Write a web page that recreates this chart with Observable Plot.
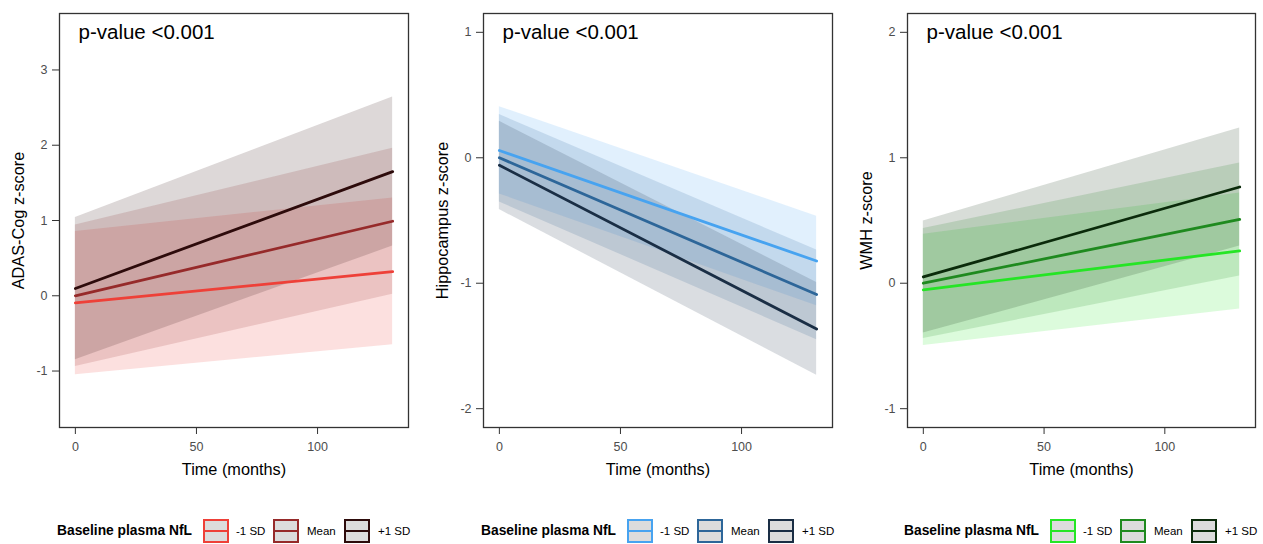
<!DOCTYPE html>
<html>
<head>
<meta charset="utf-8">
<script src="https://cdn.jsdelivr.net/npm/d3@7"></script>
<script src="https://cdn.jsdelivr.net/npm/@observablehq/plot@0.6"></script>
<style>
  html, body { margin: 0; padding: 0; background: #fff; }
  #root { position: relative; width: 1263px; height: 544px; overflow: hidden; font-family: "Liberation Sans", Arial, Helvetica, sans-serif; }
  .panel { position: absolute; top: 0; width: 421px; height: 490px; }
  .panel svg { display: block; }
  .legend { position: absolute; top: 519px; height: 24px; width: 360px; }
  .legend .ttl { position: absolute; left: 0; top: 0; line-height: 24px; font-size: 13.8px; font-weight: bold; color: #000; white-space: nowrap; }
  .legend .key { position: absolute; top: 0; width: 26px; height: 24px; box-sizing: border-box; border: 2.5px solid; background: #DCDCDC; }
  .legend .key i { position: absolute; left: 0; right: 0; top: 50%; height: 2.5px; margin-top: -1.25px; }
  .legend .lab { position: absolute; top: 0; line-height: 24px; font-size: 11.5px; color: #000; white-space: nowrap; }
</style>
</head>
<body>
<div id="root"></div>
<script>
// ---- data ----
const groups = ["-1 SD", "Mean", "+1 SD"];
const months = [0, 131];
const xTicks = [0, 50, 100];
const pLabel = "p-value <0.001";
const legendTitle = "Baseline plasma NfL";

// ADAS-Cog: per group [value at month 0, value at month 131]
const adasFit = [[-0.095, 0.32], [0.0, 0.99], [0.097, 1.65]];
const adasLo  = [[-1.05, -0.65], [-0.94, 0.02], [-0.85, 0.66]];
const adasHi  = [[0.855, 1.30], [0.94, 1.96], [1.04, 2.64]];
const adasYTicks = [-1, 0, 1, 2, 3];

// Hippocampus
const hippoFit = [[0.058, -0.823], [0.0, -1.09], [-0.06, -1.365]];
const hippoLo  = [[-0.288, -1.18], [-0.352, -1.45], [-0.413, -1.733]];
const hippoHi  = [[0.407, -0.466], [0.344, -0.735], [0.291, -0.995]];
const hippoYTicks = [-2, -1, 0, 1];

// WMH
const wmhFit = [[-0.053, 0.258], [0.0, 0.508], [0.05, 0.767]];
const wmhLo  = [[-0.497, -0.206], [-0.44, 0.058], [-0.397, 0.296]];
const wmhHi  = [[0.39, 0.72], [0.437, 0.958], [0.497, 1.238]];
const wmhYTicks = [-1, 0, 1, 2];

const adasColors  = ["#EE4038", "#962A2A", "#2D0B0B"];
const hippoColors = ["#47A3F0", "#2D6699", "#1A2E45"];
const wmhColors   = ["#25E525", "#1F8A1F", "#0B2B0B"];

const panels = [
  {fit: adasFit, lo: adasLo, hi: adasHi, colors: adasColors, yTicks: adasYTicks,
   yLabel: "ADAS-Cog z-score", yDomain: [-1.75, 3.75], left: 0, mL: 59, mR: 13, legLeft: 57},
  {fit: hippoFit, lo: hippoLo, hi: hippoHi, colors: hippoColors, yTicks: hippoYTicks,
   yLabel: "Hippocampus z-score", yDomain: [-2.15, 1.15], left: 421, mL: 62, mR: 10, legLeft: 60},
  {fit: wmhFit, lo: wmhLo, hi: wmhHi, colors: wmhColors, yTicks: wmhYTicks,
   yLabel: "WMH z-score", yDomain: [-1.15, 2.15], left: 842, mL: 65, mR: 8, legLeft: 62}
];

const root = document.getElementById("root");
const FONT = "Liberation Sans, Arial, Helvetica, sans-serif";

for (const p of panels) {
  const rows = [];
  groups.forEach((g, gi) => {
    months.forEach((m, mi) => {
      rows.push({group: g, time: m, fit: p.fit[gi][mi], lo: p.lo[gi][mi], hi: p.hi[gi][mi]});
    });
  });

  const chart = Plot.plot({
    width: 421,
    height: 490,
    marginLeft: p.mL,
    marginRight: p.mR,
    marginTop: 13,
    marginBottom: 63,
    style: {fontFamily: FONT, background: "white", overflow: "visible"},
    x: {domain: [-6.55, 137.55]},
    y: {domain: p.yDomain},
    color: {domain: groups, range: p.colors},
    marks: [
      Plot.areaY(rows, {x: "time", y1: "lo", y2: "hi", z: "group", fill: "group", fillOpacity: 0.16}),
      Plot.lineY(rows, {x: "time", y: "fit", z: "group", stroke: "group", strokeWidth: 2.8}),
      Plot.frame({stroke: "#333333", strokeWidth: 1.3}),
      Plot.axisX({ticks: xTicks, tickSize: 7, tickPadding: 8, fontSize: 12.5, stroke: "#333333", fill: "#4D4D4D",
                  tickFormat: d => String(d), label: null}),
      Plot.axisY({ticks: p.yTicks, tickSize: 7, tickPadding: 5, fontSize: 12.5, stroke: "#333333", fill: "#4D4D4D",
                  tickFormat: d => String(d), label: null}),
      Plot.text(["Time (months)"], {frameAnchor: "bottom", dy: 42, fontSize: 16.3, fill: "black",
                  textAnchor: "middle", lineAnchor: "middle"}),
      Plot.text([p.yLabel], {frameAnchor: "left", dx: -40.5, rotate: -90, fontSize: 16.3, fill: "black",
                  textAnchor: "middle", lineAnchor: "middle"}),
      Plot.text([pLabel], {frameAnchor: "top-left", dx: 19, dy: 19, fontSize: 20.5, fill: "black",
                  textAnchor: "start", lineAnchor: "middle"})
    ]
  });

  const div = document.createElement("div");
  div.className = "panel";
  div.style.left = p.left + "px";
  div.appendChild(chart);
  root.appendChild(div);

  // legend
  const leg = document.createElement("div");
  leg.className = "legend";
  leg.style.left = (p.left + p.legLeft) + "px";
  const ttl = document.createElement("span");
  ttl.className = "ttl";
  ttl.textContent = legendTitle;
  leg.appendChild(ttl);
  const keyLefts = [146, 216, 287];
  const labLefts = [179, 250, 321];
  groups.forEach((g, gi) => {
    const k = document.createElement("div");
    k.className = "key";
    k.style.left = keyLefts[gi] + "px";
    k.style.borderColor = p.colors[gi];
    const ln = document.createElement("i");
    ln.style.background = p.colors[gi];
    k.appendChild(ln);
    leg.appendChild(k);
    const lb = document.createElement("span");
    lb.className = "lab";
    lb.style.left = labLefts[gi] + "px";
    lb.textContent = g;
    leg.appendChild(lb);
  });
  root.appendChild(leg);
}
</script>
</body>
</html>
